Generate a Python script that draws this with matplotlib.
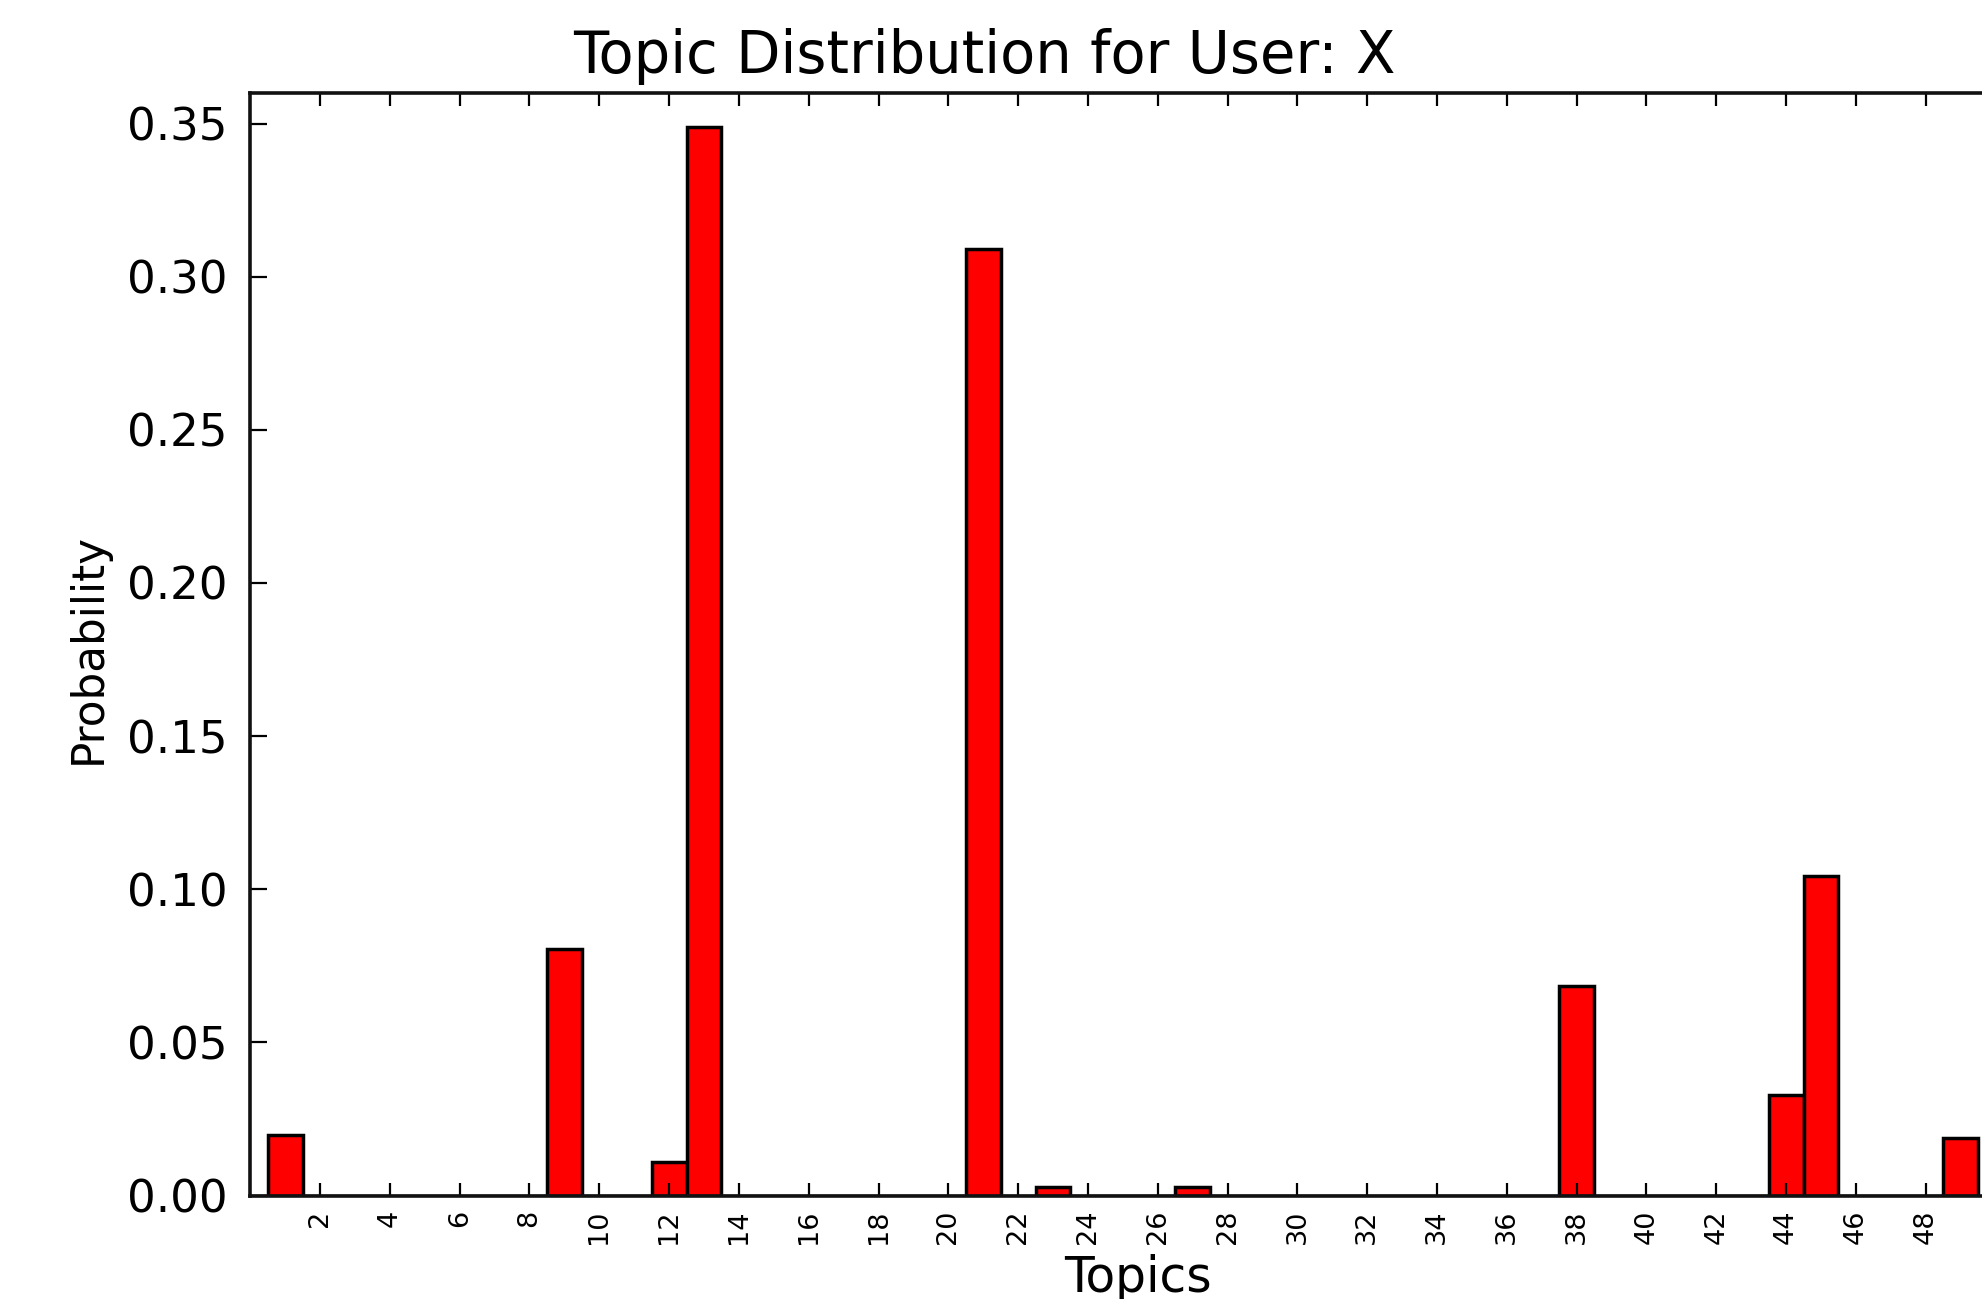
import matplotlib
matplotlib.use("Agg")
import matplotlib.pyplot as plt
import numpy as np

# Data (topic index -> probability)
topics = list(range(50))
probabilities = [0.0] * 50
nonzero_topics = [1, 9, 12, 13, 21, 23, 27, 38, 44, 45, 49]
nonzero_values = [0.0197, 0.0805, 0.0109, 0.349, 0.309, 0.0027, 0.0027,
                  0.0684, 0.0327, 0.1044, 0.0187]
for t, v in zip(nonzero_topics, nonzero_values):
    probabilities[t] = v

xtick_positions = list(range(2, 50, 2))
xtick_labels = [str(v) for v in xtick_positions]
ytick_values = [0.00, 0.05, 0.10, 0.15, 0.20, 0.25, 0.30, 0.35]
ytick_labels = ["%.2f" % v for v in ytick_values]

plt.rcParams['font.family'] = ['DejaVu Sans']

W, H = 1982, 1299
fig = plt.figure(figsize=(W / 100, H / 100), dpi=100)
fig.patch.set_facecolor('white')

ax_left, ax_right, ax_top, ax_bottom = 250.2, 1995.5, 93, 1195.5
ax = fig.add_axes([ax_left / W, (H - ax_bottom) / H,
                   (ax_right - ax_left) / W, (ax_bottom - ax_top) / H])

ax.bar(topics, probabilities, width=1.0, align='center',
       color='#ff0000', edgecolor='black', linewidth=2.5)

ax.set_xlim(0, 50)
ax.set_ylim(0, 0.36)

ax.set_xticks(xtick_positions)
ax.set_xticklabels(xtick_labels, rotation=90, fontsize=19.5)
ax.set_yticks(ytick_values)
ax.set_yticklabels(ytick_labels, fontsize=32.5)

ax.tick_params(axis='x', direction='in', length=9.5, width=1.6,
               top=True, bottom=True, pad=10, colors='black')
ax.tick_params(axis='y', direction='in', length=12, width=1.6,
               left=True, right=False, pad=16, colors='black')
for s in ax.spines.values():
    s.set_linewidth(2.6)
    s.set_color('#111111')

# Title, centered on the figure
fig.text(0.4965, (H - 73) / H, "Topic Distribution for User: X",
         ha='center', va='baseline', fontsize=41.5, color='black')

# Axis labels
fig.text(88 / W, (H - 649) / H, "Probability", rotation=90,
         ha='center', va='center', fontsize=31.5, color='black')
fig.text(1138 / W, (H - 1292) / H, "Topics",
         ha='center', va='baseline', fontsize=35, color='black')

fig.savefig("out.png", dpi=100, facecolor='white')
